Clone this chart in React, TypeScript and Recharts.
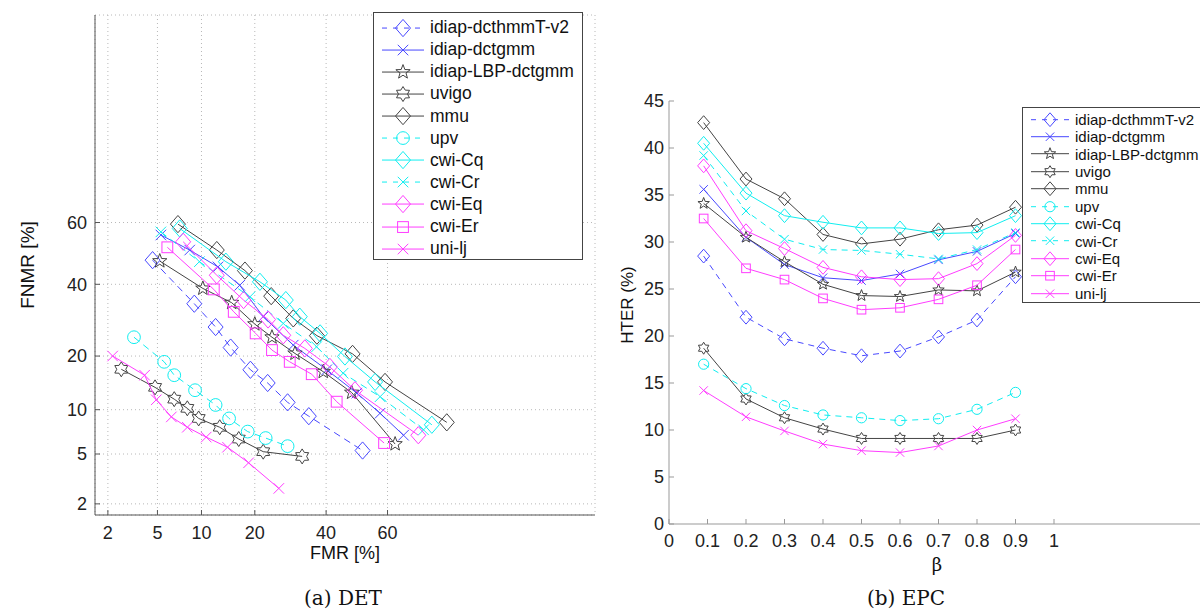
import React from "react";
import { ScatterChart, Scatter, XAxis, YAxis, CartesianGrid } from "recharts";

// ---- DET data (percentages) ----
const DET_TICKS = [2, 5, 10, 20, 40, 60];

const dcthmmFmr = [4.6, 9.0, 12.2, 14.9, 19.0, 23.1, 28.4, 34.6, 51.9];
const dcthmmFnmr = [47.8, 34.0, 27.3, 22.0, 17.0, 14.4, 11.1, 9.1, 5.3];
const dctgmmFmr = [5.3, 8.4, 12.6, 16.7, 22.0, 30.0, 40.2, 50.0, 57.6, 65.0];
const dctgmmFnmr = [56.0, 51.1, 45.6, 39.7, 30.2, 22.6, 17.0, 12.6, 9.5, 6.8];
const lbpFmr = [5.2, 10.2, 15.1, 20.0, 24.2, 30.5, 39.1, 48.3, 62.4];
const lbpFnmr = [47.5, 38.7, 34.3, 28.1, 24.6, 20.6, 16.6, 12.7, 5.9];
const uvigoFmr = [2.6, 4.8, 6.6, 8.1, 9.6, 12.9, 16.5, 22.0, 32.6];
const uvigoFnmr = [17.1, 13.6, 11.6, 10.2, 8.8, 7.7, 6.4, 5.2, 4.8];
const mmuFmr = [7.0, 12.4, 17.8, 24.0, 30.0, 37.1, 48.6, 59.2, 77.1];
const mmuFnmr = [59.5, 51.1, 44.4, 36.3, 29.7, 25.0, 20.5, 14.6, 8.3];
const upvFmr = [3.3, 5.6, 6.6, 9.1, 12.2, 14.6, 18.4, 22.6, 28.4];
const upvFnmr = [24.6, 18.7, 15.9, 13.1, 10.7, 8.8, 7.2, 6.5, 5.7];
const cqFmr = [7.2, 14.0, 21.2, 27.9, 31.9, 38.1, 46.1, 56.0, 73.2];
const cqFnmr = [58.1, 47.3, 40.8, 35.1, 30.2, 25.6, 19.9, 14.6, 8.0];
const crFmr = [5.3, 9.7, 18.9, 27.2, 37.0, 45.5, 57.6, 70.9];
const crFnmr = [57.0, 47.3, 36.1, 28.3, 22.2, 16.3, 12.0, 7.4];
const eqFmr = [7.6, 12.4, 17.5, 23.2, 27.2, 33.4, 41.2, 49.4, 69.4];
const eqFnmr = [53.8, 42.9, 35.1, 29.4, 25.1, 21.8, 17.6, 13.1, 6.8];
const erFmr = [5.9, 11.9, 15.5, 20.2, 24.2, 29.0, 35.5, 43.4, 58.9];
const erFnmr = [52.0, 38.4, 31.6, 25.6, 21.4, 18.7, 16.1, 11.2, 6.0];
const unilj_Fmr = [2.2, 4.0, 4.9, 6.3, 8.1, 10.7, 14.3, 18.6, 26.0];
const unilj_Fnmr = [20.0, 15.9, 11.5, 9.0, 7.7, 6.6, 5.6, 4.3, 2.7];

// ---- EPC data (HTER %) ----
const BETA = [0.09, 0.2, 0.3, 0.4, 0.5, 0.6, 0.7, 0.8, 0.9];
const EPC_X_TICKS = [0, 0.1, 0.2, 0.3, 0.4, 0.5, 0.6, 0.7, 0.8, 0.9, 1];
const EPC_Y_TICKS = [0, 5, 10, 15, 20, 25, 30, 35, 40, 45];

const dcthmmHter = [28.5, 22.0, 19.7, 18.7, 17.9, 18.4, 19.9, 21.7, 26.3];
const dctgmmHter = [35.6, 30.5, 27.6, 26.2, 25.9, 26.6, 28.1, 29.0, 30.9];
const lbpHter = [34.1, 30.5, 27.9, 25.5, 24.3, 24.2, 24.9, 24.8, 26.8];
const uvigoHter = [18.7, 13.3, 11.3, 10.1, 9.1, 9.1, 9.1, 9.1, 10.0];
const mmuHter = [42.7, 36.7, 34.6, 30.8, 29.8, 30.3, 31.3, 31.8, 33.7];
const upvHter = [17.0, 14.4, 12.6, 11.6, 11.3, 11.0, 11.2, 12.2, 14.0];
const cqHter = [40.5, 35.2, 32.8, 32.1, 31.5, 31.5, 30.9, 31.0, 32.8];
const crHter = [39.2, 33.3, 30.3, 29.2, 29.1, 28.7, 28.2, 29.2, 31.0];
const eqHter = [38.1, 31.2, 29.3, 27.3, 26.3, 26.0, 26.1, 27.7, 30.7];
const erHter = [32.5, 27.2, 26.0, 24.0, 22.8, 23.0, 23.9, 25.4, 29.2];
const uniljHter = [14.2, 11.4, 9.9, 8.5, 7.8, 7.6, 8.3, 10.0, 11.2];

const BLUE = "#4848ff";
const BLACK = "#444";
const CYAN = "#10eef0";
const MAGENTA = "#ff3cff";

type Kind = "diamond" | "x" | "star5" | "star6" | "circle" | "square";

const SERIES: { name: string; color: string; dashed: boolean; marker: Kind; fmr: number[]; fnmr: number[]; hter: number[] }[] = [
  { name: "idiap-dcthmmT-v2", color: BLUE, dashed: true, marker: "diamond", fmr: dcthmmFmr, fnmr: dcthmmFnmr, hter: dcthmmHter },
  { name: "idiap-dctgmm", color: BLUE, dashed: false, marker: "x", fmr: dctgmmFmr, fnmr: dctgmmFnmr, hter: dctgmmHter },
  { name: "idiap-LBP-dctgmm", color: BLACK, dashed: false, marker: "star5", fmr: lbpFmr, fnmr: lbpFnmr, hter: lbpHter },
  { name: "uvigo", color: BLACK, dashed: false, marker: "star6", fmr: uvigoFmr, fnmr: uvigoFnmr, hter: uvigoHter },
  { name: "mmu", color: BLACK, dashed: false, marker: "diamond", fmr: mmuFmr, fnmr: mmuFnmr, hter: mmuHter },
  { name: "upv", color: CYAN, dashed: true, marker: "circle", fmr: upvFmr, fnmr: upvFnmr, hter: upvHter },
  { name: "cwi-Cq", color: CYAN, dashed: false, marker: "diamond", fmr: cqFmr, fnmr: cqFnmr, hter: cqHter },
  { name: "cwi-Cr", color: CYAN, dashed: true, marker: "x", fmr: crFmr, fnmr: crFnmr, hter: crHter },
  { name: "cwi-Eq", color: MAGENTA, dashed: false, marker: "diamond", fmr: eqFmr, fnmr: eqFnmr, hter: eqHter },
  { name: "cwi-Er", color: MAGENTA, dashed: false, marker: "square", fmr: erFmr, fnmr: erFnmr, hter: erHter },
  { name: "uni-lj", color: MAGENTA, dashed: false, marker: "x", fmr: unilj_Fmr, fnmr: unilj_Fnmr, hter: uniljHter },
];

// inverse normal cdf (Acklam) for the DET normal-deviate scale
function probit(p: number): number {
  const a = [-39.69683028665376, 220.9460984245205, -275.9285104469687, 138.357751867269, -30.66479806614716, 2.506628277459239];
  const b = [-54.47609879822406, 161.5858368580409, -155.6989798598866, 66.80131188771972, -13.28068155288572];
  const c = [-0.007784894002430293, -0.3223964580411365, -2.400758277161838, -2.549732539343734, 4.374664141464968, 2.938163982698783];
  const d = [0.007784695709041462, 0.3224671290700398, 2.445134137142996, 3.754408661907416];
  const lo = 0.02425;
  if (p < lo) {
    const q = Math.sqrt(-2 * Math.log(p));
    return (((((c[0] * q + c[1]) * q + c[2]) * q + c[3]) * q + c[4]) * q + c[5]) / ((((d[0] * q + d[1]) * q + d[2]) * q + d[3]) * q + 1);
  }
  if (p > 1 - lo) {
    const q = Math.sqrt(-2 * Math.log(1 - p));
    return -(((((c[0] * q + c[1]) * q + c[2]) * q + c[3]) * q + c[4]) * q + c[5]) / ((((d[0] * q + d[1]) * q + d[2]) * q + d[3]) * q + 1);
  }
  const q = p - 0.5;
  const r = q * q;
  return ((((((a[0] * r + a[1]) * r + a[2]) * r + a[3]) * r + a[4]) * r + a[5]) * q) / (((((b[0] * r + b[1]) * r + b[2]) * r + b[3]) * r + b[4]) * r + 1);
}

const DET_TICK_Z = DET_TICKS.map((t) => probit(t / 100));
const detLabel = (v: number) => {
  const i = DET_TICK_Z.findIndex((z) => Math.abs(z - v) < 1e-6);
  return i >= 0 ? String(DET_TICKS[i]) : "";
};

function Marker({ kind, cx, cy, color, s }: { kind: Kind; cx: number; cy: number; color: string; s: number }) {
  const common = { fill: "none", stroke: color, strokeWidth: 1 };
  if (kind === "diamond") {
    const h = s * 1.15;
    return <polygon points={`${cx},${cy - h} ${cx + s},${cy} ${cx},${cy + h} ${cx - s},${cy}`} {...common} />;
  }
  if (kind === "x") {
    const r = s * 0.7;
    return <path d={`M${cx - r},${cy - r}L${cx + r},${cy + r}M${cx - r},${cy + r}L${cx + r},${cy - r}`} {...common} />;
  }
  if (kind === "circle") return <circle cx={cx} cy={cy} r={s * 0.85} {...common} />;
  if (kind === "square") {
    const h = s * 0.72;
    return <rect x={cx - h} y={cy - h} width={h * 2} height={h * 2} {...common} />;
  }
  const n = kind === "star5" ? 5 : 6;
  const inner = kind === "star5" ? 0.42 : 0.6;
  const pts: string[] = [];
  for (let i = 0; i < n * 2; i++) {
    const r = i % 2 === 0 ? s : s * inner;
    const ang = -Math.PI / 2 + (i * Math.PI) / n;
    pts.push(`${(cx + r * Math.cos(ang)).toFixed(2)},${(cy + r * Math.sin(ang)).toFixed(2)}`);
  }
  return <polygon points={pts.join(" ")} {...common} />;
}

function LegendBox({ left, top, width, height, rowH, firstY, fontSize, lineW, s, border }: any) {
  return (
    <div
      style={{
        position: "absolute",
        left,
        top,
        width,
        height,
        border: `${border}px solid #444`,
        background: "#fff",
        boxSizing: "border-box",
      }}
    >
      {SERIES.map((sr, i) => (
        <div
          key={sr.name}
          style={{
            position: "absolute",
            left: 0,
            top: firstY + i * rowH - rowH / 2,
            height: rowH,
            display: "flex",
            alignItems: "center",
            whiteSpace: "nowrap",
            fontSize,
            color: "#111",
          }}
        >
          <svg width={lineW + 10} height={rowH} style={{ marginLeft: 4 }}>
            <line
              x1={4}
              x2={lineW + 4}
              y1={rowH / 2}
              y2={rowH / 2}
              stroke={sr.color}
              strokeWidth={1}
              strokeDasharray={sr.dashed ? "5 6" : undefined}
            />
            <Marker kind={sr.marker} cx={4 + lineW / 2} cy={rowH / 2} color={sr.color} s={s} />
          </svg>
          <span>{sr.name}</span>
        </div>
      ))}
    </div>
  );
}

const tickStyle = { fontSize: 18, fill: "#222", fontFamily: '"Liberation Sans", Arial, sans-serif' };

export default function App() {
  const serif = '"DejaVu Serif", serif';
  return (
    <div
      style={{
        position: "absolute",
        left: 0,
        top: 0,
        width: 1200,
        height: 616,
        overflow: "hidden",
        background: "#fff",
        fontFamily: '"Liberation Sans", Arial, sans-serif',
      }}
    >
      {/* (a) DET */}
      <div style={{ position: "absolute", left: 0, top: 0 }}>
        <ScatterChart width={600} height={560} margin={{ top: 15, right: 5, bottom: 0, left: 0 }}>
          <CartesianGrid stroke="#b8b8b8" strokeDasharray="1 3" />
          <XAxis
            type="number"
            dataKey="x"
            domain={[-2.16, 1.965]}
            allowDataOverflow
            ticks={DET_TICK_Z}
            interval={0}
            tickFormatter={detLabel}
            height={45}
            stroke="#555"
            tickSize={-5}
            tickMargin={16}
            tick={tickStyle}
          />
          <YAxis
            type="number"
            dataKey="y"
            domain={[-2.145, 1.955]}
            allowDataOverflow
            ticks={DET_TICK_Z}
            interval={0}
            tickFormatter={detLabel}
            width={95}
            stroke="#555"
            tickSize={-5}
            tickMargin={13}
            tick={tickStyle}
          />
          {SERIES.map((sr) => (
            <Scatter
              key={sr.name}
              name={sr.name}
              data={sr.fmr.map((v, i) => ({ x: probit(v / 100), y: probit(sr.fnmr[i] / 100) }))}
              fill={sr.color}
              line={{ stroke: sr.color, strokeWidth: 1, strokeDasharray: sr.dashed ? "7 5" : undefined }}
              lineType="joint"
              isAnimationActive={false}
              shape={(p: any) => <Marker kind={sr.marker} cx={p.cx} cy={p.cy} color={sr.color} s={7.5} />}
            />
          ))}
        </ScatterChart>
      </div>

      <LegendBox left={373} top={12} width={210} height={248} rowH={22.1} firstY={14.7} fontSize={17.5} lineW={42} s={7.5} border={1.5} />

      {/* (b) EPC */}
      <div style={{ position: "absolute", left: 600, top: 0 }}>
        <ScatterChart width={608} height={569} margin={{ top: 101, right: 0, bottom: 0, left: 0 }}>
          <XAxis
            type="number"
            dataKey="x"
            domain={[0, 1.4]}
            allowDataOverflow
            ticks={EPC_X_TICKS}
            interval={0}
            tickFormatter={(v: number) => (v === 0 || v === 1 ? String(v) : v.toFixed(1))}
            height={45}
            stroke="#999"
            tickSize={-5}
            tickMargin={15}
            tick={tickStyle}
          />
          <YAxis
            type="number"
            dataKey="y"
            domain={[0, 45]}
            ticks={EPC_Y_TICKS}
            interval={0}
            width={69}
            stroke="#999"
            tickSize={-5}
            tickMargin={10}
            tick={tickStyle}
          />
          {SERIES.map((sr) => (
            <Scatter
              key={sr.name}
              name={sr.name}
              data={BETA.map((b, i) => ({ x: b, y: sr.hter[i] }))}
              fill={sr.color}
              line={{ stroke: sr.color, strokeWidth: 1, strokeDasharray: sr.dashed ? "6 5" : undefined }}
              lineType="joint"
              isAnimationActive={false}
              shape={(p: any) => <Marker kind={sr.marker} cx={p.cx} cy={p.cy} color={sr.color} s={6} />}
            />
          ))}
        </ScatterChart>
      </div>

      <LegendBox left={1022} top={107} width={200} height={196} rowH={17.4} firstY={11.3} fontSize={15} lineW={38} s={6} border={1} />

      {/* axis titles and captions */}
      <div style={{ position: "absolute", left: 28, top: 265, transform: "translate(-50%,-50%) rotate(-90deg)", fontSize: 19, whiteSpace: "nowrap", color: "#111" }}>
        FNMR [%]
      </div>
      <div style={{ position: "absolute", left: 345, top: 553, transform: "translate(-50%,-50%)", fontSize: 18, whiteSpace: "nowrap", color: "#111" }}>
        FMR [%]
      </div>
      <div style={{ position: "absolute", left: 628, top: 305, transform: "translate(-50%,-50%) rotate(-90deg)", fontSize: 17, whiteSpace: "nowrap", color: "#111" }}>
        HTER (%)
      </div>
      <div style={{ position: "absolute", left: 937, top: 565, transform: "translate(-50%,-50%)", fontSize: 18, lineHeight: "20px", fontFamily: serif, color: "#111" }}>
        β
      </div>
      <div style={{ position: "absolute", left: 343, top: 598, transform: "translate(-50%,-50%)", fontSize: 20, fontFamily: serif, whiteSpace: "nowrap", color: "#111" }}>
        (a) DET
      </div>
      <div style={{ position: "absolute", left: 906, top: 598, transform: "translate(-50%,-50%)", fontSize: 20, fontFamily: serif, whiteSpace: "nowrap", color: "#111" }}>
        (b) EPC
      </div>
    </div>
  );
}
